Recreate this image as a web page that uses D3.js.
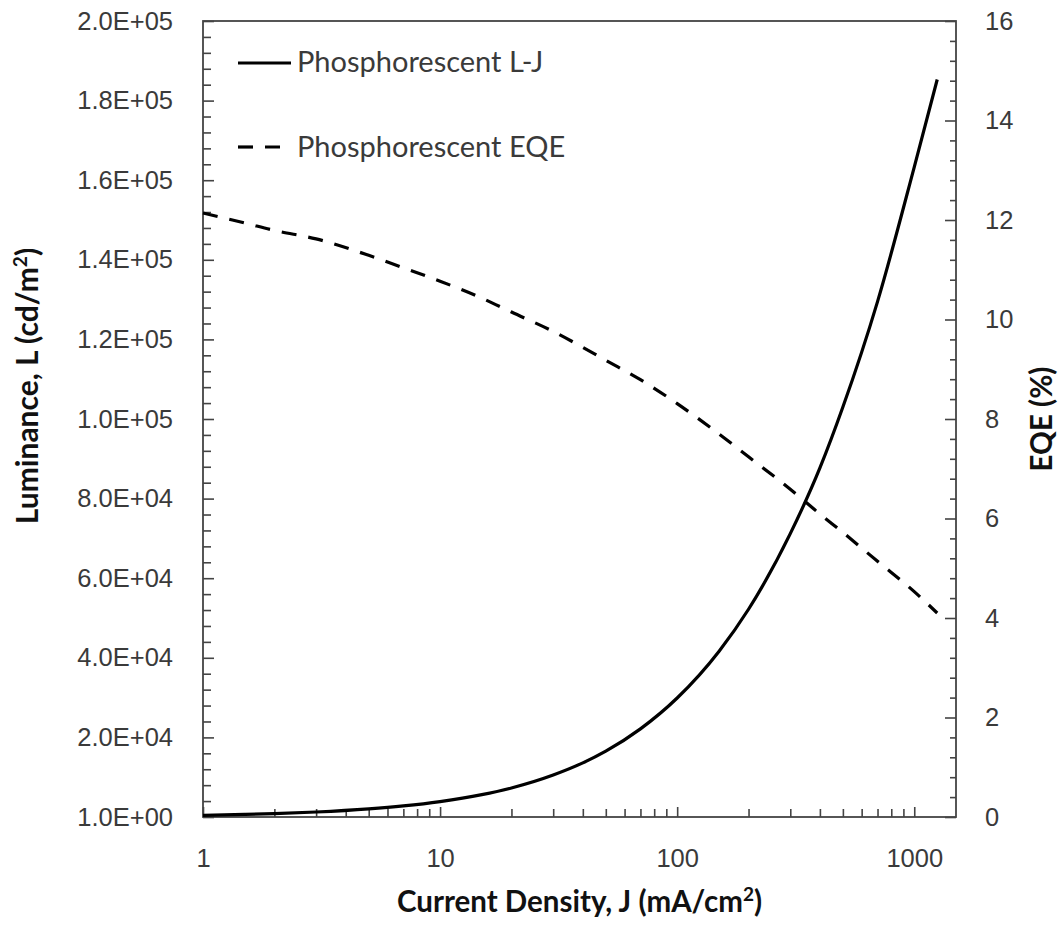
<!DOCTYPE html>
<html>
<head>
<meta charset="utf-8">
<script src="https://cdn.jsdelivr.net/npm/d3@7"></script>
<style>
  html, body { margin: 0; padding: 0; background: #fff; }
  svg { display: block; font-family: Lato, "Open Sans", sans-serif; }
</style>
</head>
<body>
<svg id="chart" width="1062" height="926"></svg>
<script>
// Current density (mA/cm^2) at which both quantities were sampled
const currentDensity = [1, 1.5, 2, 3, 5, 7, 10, 15, 20, 30, 40, 50, 70, 100, 150, 200, 300, 400, 500, 700, 1000, 1250];
// Luminance (cd/m^2) of the phosphorescent device
const luminance = [400, 640, 850, 1260, 2050, 2800, 3880, 5620, 7300, 10550, 13600, 16550, 22150, 29900, 41600, 52200, 71200, 87700, 103000, 129500, 163300, 185300];
// External quantum efficiency (%)
const eqe = [12.14, 11.94, 11.79, 11.62, 11.29, 11.04, 10.77, 10.43, 10.15, 9.76, 9.44, 9.18, 8.79, 8.31, 7.70, 7.24, 6.59, 6.09, 5.72, 5.14, 4.53, 4.10];

// Axis ticks and labels
const xTicks = [1, 10, 100, 1000];
const xTickLabels = ["1", "10", "100", "1000"];
const yLeftTicks = [0, 20000, 40000, 60000, 80000, 100000, 120000, 140000, 160000, 180000, 200000];
const yLeftTickLabels = ["1.0E+00", "2.0E+04", "4.0E+04", "6.0E+04", "8.0E+04", "1.0E+05", "1.2E+05", "1.4E+05", "1.6E+05", "1.8E+05", "2.0E+05"];
const yRightTicks = [0, 2, 4, 6, 8, 10, 12, 14, 16];
const seriesNames = ["Phosphorescent L-J", "Phosphorescent EQE"];

const svg = d3.select("#chart");
const plotLeft = 203, plotRight = 956, plotTop = 21, plotBottom = 817;
const axisColor = "#444";
const labelColor = "#3a3a3a";
const tickFont = 25.5, titleFont = 29.5, legendFont = 29;

const x = d3.scaleLog().domain([1, 1500]).range([plotLeft, plotRight]);
const yL = d3.scaleLinear().domain([0, 200000]).range([plotBottom, plotTop]);
const yR = d3.scaleLinear().domain([0, 16]).range([plotBottom, plotTop]);

// minor tick positions
const xMinor = [];
[1, 10, 100].forEach(d => { for (let k = 2; k <= 9; k++) xMinor.push(d * k); });
const yLMinor = d3.range(0, 200001, 4000).filter(v => v % 20000 !== 0);
const yRMinor = d3.range(0, 16.001, 0.4).map(v => +v.toFixed(1)).filter(v => Math.abs(v / 2 - Math.round(v / 2)) > 1e-6);

function styleAxis(g) {
  g.select(".domain").remove();
  g.selectAll(".tick line").attr("stroke", axisColor).attr("stroke-width", 1.6);
  g.selectAll(".tick text").attr("fill", labelColor).attr("font-size", tickFont);
}

// frame
svg.append("rect")
  .attr("x", plotLeft).attr("y", plotTop)
  .attr("width", plotRight - plotLeft).attr("height", plotBottom - plotTop)
  .attr("fill", "none").attr("stroke", axisColor).attr("stroke-width", 1.8);

// x axis
svg.append("g").attr("transform", `translate(0,${plotBottom})`)
  .call(d3.axisBottom(x).tickValues(xTicks).tickFormat((d, i) => xTickLabels[i])
    .tickSizeInner(-10).tickSizeOuter(0).tickPadding(32))
  .call(styleAxis);
svg.append("g").attr("transform", `translate(0,${plotBottom})`)
  .call(d3.axisBottom(x).tickValues(xMinor).tickFormat("").tickSizeInner(-8).tickSizeOuter(0))
  .call(styleAxis);

// left axis
svg.append("g").attr("transform", `translate(${plotLeft},0)`)
  .call(d3.axisLeft(yL).tickValues(yLeftTicks).tickFormat((d, i) => yLeftTickLabels[i])
    .tickSizeInner(-11).tickSizeOuter(0).tickPadding(30))
  .call(styleAxis);
svg.append("g").attr("transform", `translate(${plotLeft},0)`)
  .call(d3.axisLeft(yL).tickValues(yLMinor).tickFormat("").tickSizeInner(-8).tickSizeOuter(0))
  .call(styleAxis);

// right axis
svg.append("g").attr("transform", `translate(${plotRight},0)`)
  .call(d3.axisRight(yR).tickValues(yRightTicks).tickFormat(d3.format("d"))
    .tickSizeInner(-11).tickSizeOuter(0).tickPadding(29))
  .call(styleAxis);
svg.append("g").attr("transform", `translate(${plotRight},0)`)
  .call(d3.axisRight(yR).tickValues(yRMinor).tickFormat("").tickSizeInner(-6).tickSizeOuter(0))
  .call(styleAxis);

// curves
const lumLine = d3.line()
  .x((d, i) => x(currentDensity[i]))
  .y(d => yL(d))
  .curve(d3.curveMonotoneX);
const eqeLine = d3.line()
  .x((d, i) => x(currentDensity[i]))
  .y(d => yR(d))
  .curve(d3.curveMonotoneX);

svg.append("path").datum(eqe)
  .attr("d", eqeLine)
  .attr("fill", "none").attr("stroke", "#000").attr("stroke-width", 3.2)
  .attr("stroke-dasharray", "15,12");
svg.append("path").datum(luminance)
  .attr("d", lumLine)
  .attr("fill", "none").attr("stroke", "#000").attr("stroke-width", 3.2);

// legend
const legend = svg.append("g");
const legendRows = [
  { y: 63, ty: 62, dash: null },
  { y: 147, ty: 147, dash: "15,12" }
];
legendRows.forEach((r, i) => {
  legend.append("line")
    .attr("x1", 238).attr("x2", 291).attr("y1", r.y).attr("y2", r.y)
    .attr("stroke", "#000").attr("stroke-width", 3.2)
    .attr("stroke-dasharray", r.dash);
  legend.append("text")
    .attr("x", 297).attr("y", r.ty).attr("dy", "0.36em")
    .attr("font-size", legendFont).attr("fill", labelColor)
    .text(seriesNames[i]);
});

// axis titles
const xTitle = svg.append("text")
  .attr("x", (plotLeft + plotRight) / 2).attr("y", 912)
  .attr("text-anchor", "middle").attr("font-weight", "bold")
  .attr("font-size", titleFont).attr("fill", "#111");
xTitle.append("tspan").text("Current Density, J (mA/cm");
xTitle.append("tspan").attr("font-size", 19).attr("dy", -11).text("2");
xTitle.append("tspan").attr("dy", 11).text(")");

const yTitle = svg.append("text")
  .attr("transform", `translate(38,386) rotate(-90)`)
  .attr("text-anchor", "middle").attr("font-weight", "bold")
  .attr("font-size", 30).attr("fill", "#111");
yTitle.append("tspan").text("Luminance, L (cd/m");
yTitle.append("tspan").attr("font-size", 19).attr("dy", -11).text("2");
yTitle.append("tspan").attr("dy", 11).text(")");

svg.append("text")
  .attr("transform", `translate(1052,${(plotTop + plotBottom) / 2}) rotate(-90)`)
  .attr("text-anchor", "middle").attr("font-weight", "bold")
  .attr("font-size", titleFont).attr("fill", "#111")
  .text("EQE (%)");
</script>
</body>
</html>
